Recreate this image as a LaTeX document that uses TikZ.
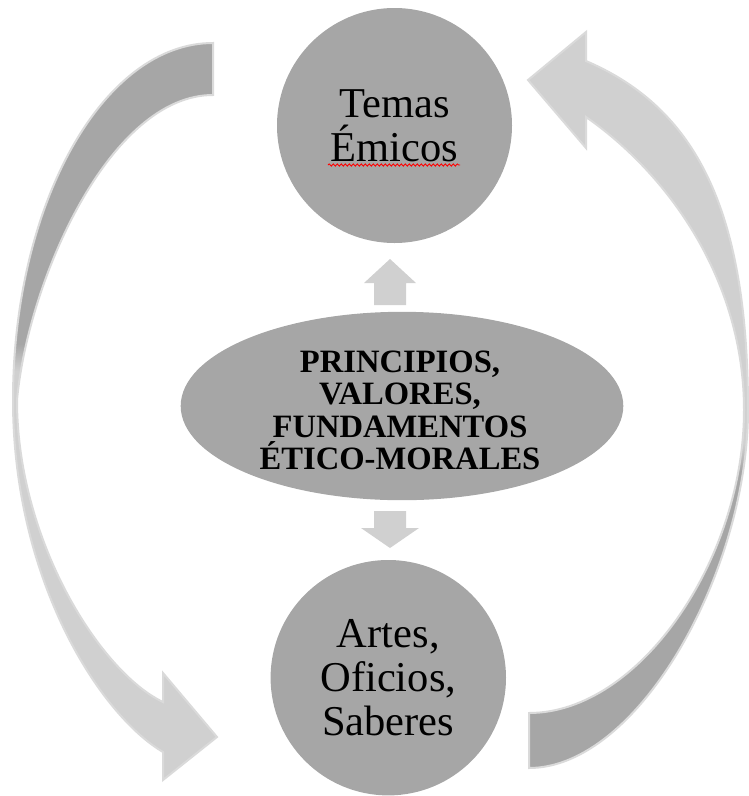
\documentclass[tikz,border=0pt]{standalone}
\usepackage{fontspec}
\setmainfont{Liberation Serif}[Ligatures=CommonOff]
\usetikzlibrary{shapes.geometric,decorations.pathmorphing}
\definecolor{circlegray}{HTML}{A6A6A6}
\definecolor{arrowlight}{HTML}{D0D0D0}
\definecolor{arrowedge}{HTML}{DADADA}
\begin{document}
\begin{tikzpicture}[x=1pt,y=-1pt,
  disc/.style={circle, fill=circlegray, inner sep=0pt, minimum size=#1, align=center,
    font=\fontsize{42.5}{44}\selectfont},
  centershape/.style={ellipse, fill=circlegray, inner sep=0pt, minimum width=442.6pt, minimum height=188.4pt},
  centertext/.style={align=center, inner sep=0pt, font=\bfseries\fontsize{32.6}{32.4}\selectfont},
  smallarrow/.style={fill=arrowlight},
  bigedge/.style={draw=arrowedge, line width=2pt},
  spellmark/.style={draw=red, line width=0.9pt, decorate, decoration={snake, amplitude=1.1pt, segment length=4pt}}]
\useasboundingbox (0,0) rectangle (748,796);

% big curved arrow on the left (from top circle down to bottom circle)
\def\leftbigarrow{(213,43) .. controls (103,43) and (13,204) .. (13,400)
  .. controls (13,580) and (100,715) .. (163,752)
  -- (163,780) -- (217,737) -- (163,673) -- (163,702)
  .. controls (100,672) and (17,540) .. (17,400)
  .. controls (28,280) and (110,95) .. (213,95) -- cycle}
% big curved arrow on the right (from bottom circle up to top circle)
\def\rightbigarrow{(529,768) .. controls (639,768) and (748,570) .. (748,410)
  .. controls (748,210) and (696,108) .. (586,61)
  -- (586,32) -- (528,80) -- (586,148) -- (586,117)
  .. controls (668,174) and (744,280) .. (744,410)
  .. controls (744,560) and (639,713) .. (529,713) -- cycle}

\begin{scope}
  \clip \leftbigarrow;
  \fill[arrowlight] (0,0) rectangle (400,796);
  \fill[circlegray] (0,0) rectangle (400,345);
  \shade[top color=circlegray, bottom color=arrowlight] (0,344) rectangle (400,371);
\end{scope}
\path[bigedge] \leftbigarrow;

\begin{scope}
  \clip \rightbigarrow;
  \fill[arrowlight] (380,0) rectangle (760,796);
  \fill[circlegray] (380,470) rectangle (760,796);
  \shade[top color=arrowlight, bottom color=circlegray] (380,444) rectangle (760,471);
\end{scope}
\path[bigedge] \rightbigarrow;

% nodes
\node[disc=235pt] (temas) at (394.5,125.5) {Temas\\Émicos};
\node[disc=235.4pt] (artes) at (388.3,677.7) {Artes,\\Oficios,\\Saberes};
\node[centershape] (centro) at (402,406) {};
\node[centertext] (centrotexto) at (400,410.3) {PRINCIPIOS,\\VALORES,\\FUNDAMENTOS\\ÉTICO-MORALES};

% spell-check underline
\path[spellmark] (328,165) -- (460,165);

% small block arrows between ellipse and circles
\coordinate (upfoot) at (390,305);
\fill[smallarrow] (upfoot) -- ++(-16,0) -- ++(0,-22) -- ++(-10,0) -- ++(26,-24)
  -- ++(26,24) -- ++(-10,0) -- ++(0,22) -- cycle;
\coordinate (downtop) at (390,511);
\fill[smallarrow] (downtop) -- ++(-16,0) -- ++(0,17) -- ++(-13,0) -- ++(29,20)
  -- ++(29,-20) -- ++(-13,0) -- ++(0,-17) -- cycle;
\end{tikzpicture}
\end{document}
